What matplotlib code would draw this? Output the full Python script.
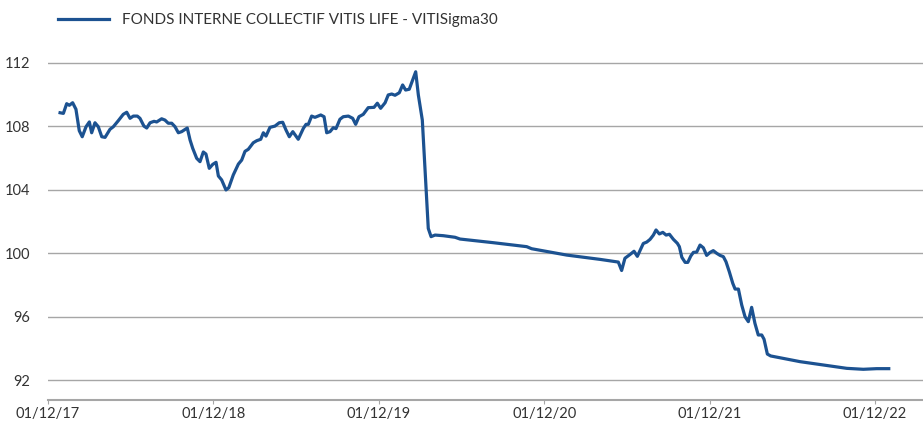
import numpy as np
import matplotlib
matplotlib.use("Agg")
import matplotlib.pyplot as plt

# valeurs (annee decimale, valeur)
years = np.array([
    2017.988, 2018.008, 2018.028, 2018.044, 2018.064, 2018.084, 2018.104, 2018.122,
    2018.145, 2018.165, 2018.179, 2018.199, 2018.219, 2018.240, 2018.260, 2018.290,
    2018.310, 2018.340, 2018.370, 2018.391, 2018.411, 2018.431, 2018.455, 2018.471,
    2018.495, 2018.512, 2018.532, 2018.556, 2018.572, 2018.602, 2018.622, 2018.642,
    2018.663, 2018.683, 2018.703, 2018.723, 2018.757, 2018.774, 2018.790, 2018.814,
    2018.834, 2018.854, 2018.870, 2018.890, 2018.911, 2018.931, 2018.945, 2018.965,
    2018.991, 2019.008, 2019.035, 2019.066, 2019.086, 2019.106, 2019.126, 2019.156,
    2019.177, 2019.201, 2019.217, 2019.233, 2019.257, 2019.287, 2019.313, 2019.334,
    2019.354, 2019.374, 2019.395, 2019.428, 2019.459, 2019.475, 2019.489, 2019.509,
    2019.529, 2019.564, 2019.584, 2019.600, 2019.620, 2019.640, 2019.656, 2019.680,
    2019.700, 2019.731, 2019.757, 2019.775, 2019.795, 2019.821, 2019.851, 2019.886,
    2019.906, 2019.926, 2019.953, 2019.972, 2019.993, 2020.013, 2020.039, 2020.059,
    2020.077, 2020.099, 2020.138, 2020.154, 2020.178, 2020.214, 2020.231, 2020.255,
    2020.305, 2020.376, 2020.406, 2020.607, 2020.809, 2020.839, 2021.051, 2021.252,
    2021.363, 2021.383, 2021.403, 2021.434, 2021.458, 2021.478, 2021.514, 2021.535,
    2021.555, 2021.575, 2021.591, 2021.611, 2021.632, 2021.652, 2021.672, 2021.696,
    2021.720, 2021.732, 2021.747, 2021.767, 2021.783, 2021.801, 2021.817, 2021.837,
    2021.857, 2021.877, 2021.897, 2021.918, 2021.937, 2021.958, 2021.978, 2021.998,
    2022.014, 2022.034, 2022.055, 2022.069, 2022.089, 2022.109, 2022.129, 2022.149,
    2022.169, 2022.189, 2022.209, 2022.230, 2022.244, 2022.264, 2022.284, 2022.359,
    2022.462, 2022.602, 2022.744, 2022.844, 2022.925, 2022.998])

values = np.array([
    108.85, 108.81, 109.42, 109.32, 109.48, 109.07, 107.72, 107.34,
    107.97, 108.27, 107.59, 108.22, 107.97, 107.34, 107.30, 107.81,
    107.97, 108.35, 108.75, 108.88, 108.50, 108.64, 108.64, 108.50,
    108.01, 107.89, 108.22, 108.31, 108.27, 108.47, 108.39, 108.19,
    108.19, 107.97, 107.59, 107.66, 107.89, 107.13, 106.61, 105.98,
    105.77, 106.38, 106.25, 105.35, 105.60, 105.73, 104.87, 104.62,
    103.99, 104.13, 104.93, 105.62, 105.87, 106.42, 106.55, 106.96,
    107.09, 107.18, 107.59, 107.38, 107.93, 108.01, 108.22, 108.25,
    107.76, 107.34, 107.66, 107.18, 107.87, 108.12, 108.12, 108.64,
    108.56, 108.71, 108.60, 107.59, 107.66, 107.91, 107.85, 108.44,
    108.60, 108.64, 108.50, 108.12, 108.60, 108.75, 109.17, 109.19,
    109.45, 109.13, 109.48, 109.97, 110.03, 109.95, 110.11, 110.60,
    110.28, 110.33, 111.43, 109.97, 108.39, 101.57, 101.05, 101.15,
    101.11, 101.01, 100.90, 100.67, 100.42, 100.29, 99.89, 99.62,
    99.45, 98.92, 99.69, 99.93, 100.13, 99.81, 100.62, 100.71,
    100.88, 101.15, 101.47, 101.22, 101.32, 101.15, 101.20, 100.88,
    100.63, 100.42, 99.75, 99.43, 99.43, 99.83, 100.06, 100.08,
    100.52, 100.35, 99.87, 100.06, 100.17, 100.00, 99.87, 99.79,
    99.47, 98.84, 98.11, 97.75, 97.75, 96.75, 96.01, 95.70,
    96.60, 95.59, 94.86, 94.86, 94.59, 93.66, 93.54, 93.39,
    93.18, 92.97, 92.76, 92.70, 92.74, 92.74])

tick_years = [2017, 2018, 2019, 2020, 2021, 2022]
tick_labels = ["01/12/17", "01/12/18", "01/12/19", "01/12/20", "01/12/21", "01/12/22"]
y_ticks = [92, 96, 100, 104, 108, 112]
serie_name = "FONDS INTERNE COLLECTIF VITIS LIFE - VITISigma30"

plt.rcParams['font.family'] = ['Lato', 'DejaVu Sans']
txt = "#333333"

fig = plt.figure(figsize=(9.23, 4.21), dpi=100)
ax = fig.add_axes([0.052, 0.05, 0.948, 0.855])

line, = ax.plot(years, values, color="#1C5291", lw=2.3, solid_joinstyle="round")

# 1er decembre de chaque annee
xt = [y + 334 / 365 for y in tick_years]
ax.set_xticks(xt)
ax.set_xticklabels(tick_labels, fontsize=10.5, color=txt)
ax.set_yticks(y_ticks)
ax.set_yticklabels([str(v) for v in y_ticks], fontsize=10.5, color=txt)

ax.set_xlim(2017.915, 2023.205)
ax.set_ylim(90.77, 113.43)

ax.grid(axis="y", color="#a6a6a6", lw=1.0)
ax.set_axisbelow(True)
for s in ["top", "right", "left"]:
    ax.spines[s].set_visible(False)
ax.spines["bottom"].set_color("#a6a6a6")
ax.spines["bottom"].set_linewidth(1.5)
ax.tick_params(axis="y", length=0, pad=13)
ax.tick_params(axis="x", length=3, color="#a6a6a6", pad=2)

fig.legend([line], [serie_name], loc="center left", bbox_to_anchor=(0.063, 0.952),
           frameon=False, fontsize=11, handlelength=3.3, handletextpad=0.85,
           labelcolor=txt, borderpad=0, borderaxespad=0)

fig.savefig("out.png", dpi=100)
